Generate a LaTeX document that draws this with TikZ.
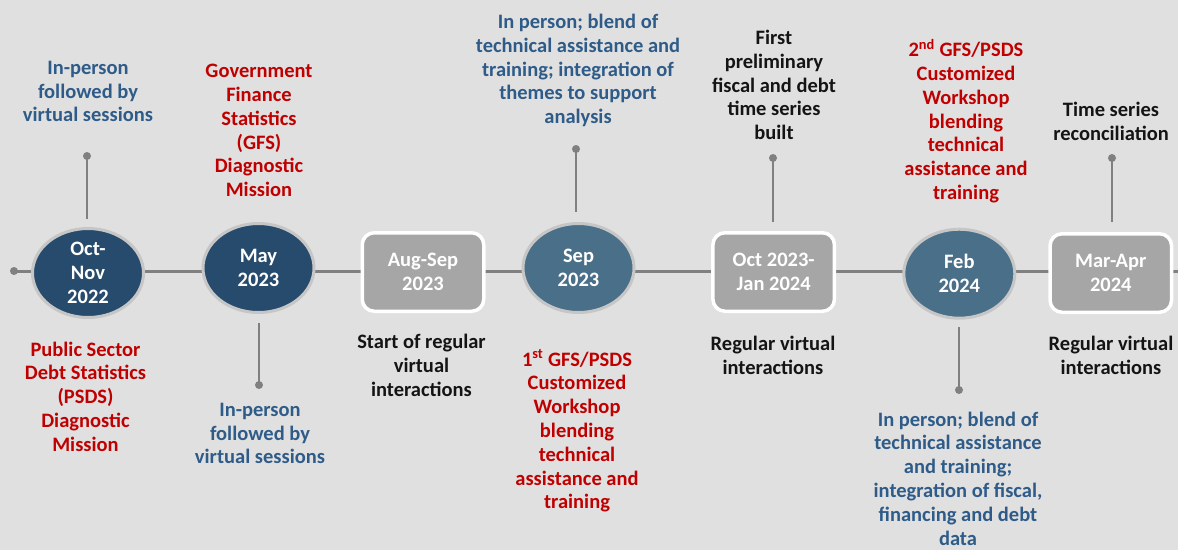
\documentclass[tikz,border=0pt]{standalone}
\usepackage{fontspec}
\setmainfont{Carlito}
\usetikzlibrary{shapes.geometric}
\definecolor{bg}{HTML}{E0E0E0}
\definecolor{navy}{HTML}{274B6D}
\definecolor{steel}{HTML}{4A6F89}
\definecolor{boxgray}{HTML}{A6A6A6}
\definecolor{ringgray}{HTML}{C6C6C6}
\definecolor{linegray}{HTML}{808080}
\definecolor{txtblue}{HTML}{2E5B88}
\definecolor{txtred}{HTML}{C00000}
\definecolor{txtblack}{HTML}{141414}
\begin{document}
\begin{tikzpicture}[x=1pt,y=-1pt,
  every node/.style={font=\fontsize{20.5}{23.8}\selectfont\bfseries, align=center, inner sep=0pt},
  ell/.style={ellipse, minimum width=111pt, minimum height=89pt, draw=ringgray, line width=3pt, text=white},
  navyell/.style={ell, fill=navy},
  steelell/.style={ell, fill=steel},
  rbox/.style={rectangle, rounded corners=12pt, minimum width=121.5pt, minimum height=78.5pt, fill=boxgray, draw=white, line width=3.5pt, text=white},
  tl/.style={draw=linegray, line width=3pt},
  stem/.style={draw=linegray, line width=2.5pt},
  dot/.style={circle, fill=linegray, minimum size=8pt, inner sep=0pt},
  tblue/.style={text=txtblue},
  tred/.style={text=txtred},
  tblack/.style={text=txtblack},
]
\fill[bg] (0,0) rectangle (1178,550);
\useasboundingbox (0,0) rectangle (1178,550);

% timeline
\node[dot] (start) at (14,271) {};
\coordinate (tend) at (1178,271);
\draw[tl] (start.center) -- (tend);

% milestones
\node[navyell] (e1) at (88,273) {Oct-\\Nov\\2022};
\node[navyell] (e2) at (258.5,268) {May\\2023};
\node[rbox] (b1) at (423,272) {Aug-Sep\\2023};
\node[steelell] (e3) at (578.5,268) {Sep\\2023};
\node[rbox] (b2) at (773.7,272) {Oct 2023-\\Jan 2024};
\node[steelell] (e4) at (959.3,273.7) {Feb\\2024};
\node[rbox] (b3) at (1110.8,273) {Mar-Apr\\2024};

% stems
\node[dot] (d1) at (87,156) {};
\coordinate (s1) at (87,219);
\draw[stem] (d1.center) -- (s1);
\node[dot] (d2) at (259,385) {};
\coordinate (s2) at (259,323);
\draw[stem] (d2.center) -- (s2);
\node[dot] (d3) at (576,149) {};
\coordinate (s3) at (576,212);
\draw[stem] (d3.center) -- (s3);
\node[dot] (d4) at (773,158) {};
\coordinate (s4) at (773,222);
\draw[stem] (d4.center) -- (s4);
\node[dot] (d5) at (959,390) {};
\coordinate (s5) at (959,327);
\draw[stem] (d5.center) -- (s5);
\node[dot] (d6) at (1112,158) {};
\coordinate (s6) at (1112,222);
\draw[stem] (d6.center) -- (s6);

% labels
\node[tblue] (t1) at (88,91.5) {In-person\\followed by\\virtual sessions};
\node[tred] (t2) at (85.5,396.5) {Public Sector\\Debt Statistics\\(PSDS)\\Diagnostic\\Mission};
\node[tred] (t3) at (259,130.5) {Government\\Finance\\Statistics\\(GFS)\\Diagnostic\\Mission};
\node[tblue] (t4) at (260,433.5) {In-person\\followed by\\virtual sessions};
\node[tblack] (t5) at (421.5,365.5) {Start of regular\\virtual\\interactions};
\node[tblue] (t6) at (578,70.5) {In person; blend of\\technical assistance and\\training; integration of\\themes to support\\analysis};
\node[tred] (t7) at (577,431) {1\textsuperscript{st} GFS/PSDS\\Customized\\Workshop\\blending\\technical\\assistance and\\training};
\node[tblack] (t8) at (774,85) {First\\preliminary\\fiscal and debt\\time series\\built};
\node[tblack] (t9) at (773,355) {Regular virtual\\interactions};
\node[tred] (t10) at (966,121) {2\textsuperscript{nd} GFS/PSDS\\Customized\\Workshop\\blending\\technical\\assistance and\\training};
\node[tblue] (t11) at (958,478.5) {In person; blend of\\technical assistance\\and training;\\integration of fiscal,\\financing and debt\\data};
\node[tblack] (t12) at (1111,121.5) {Time series\\reconciliation};
\node[tblack] (t13) at (1111,355.5) {Regular virtual\\interactions};
\end{tikzpicture}
\end{document}
